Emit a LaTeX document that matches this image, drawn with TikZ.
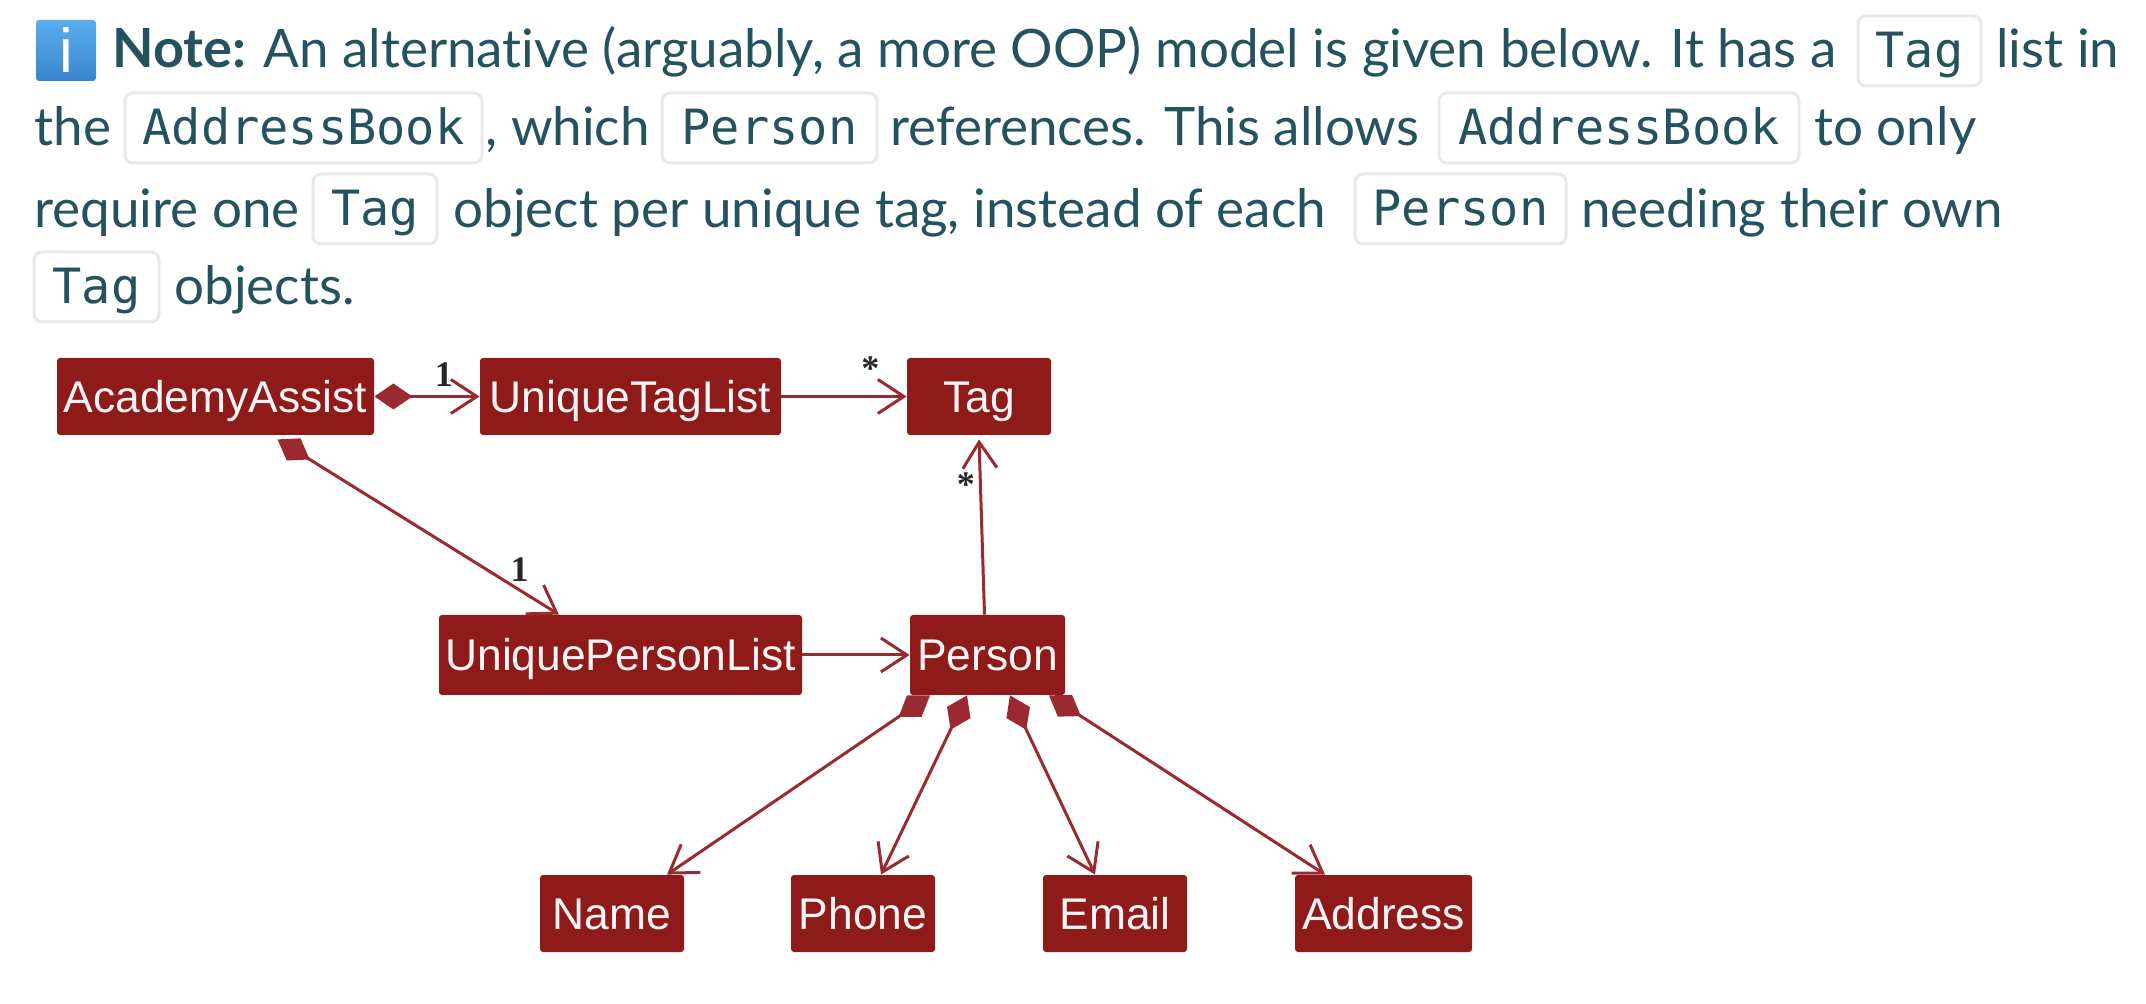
\documentclass[tikz,border=0pt]{standalone}
\usepackage{fontspec}
\setmainfont{Lato}[Ligatures=NoCommon]
\setmonofont{DejaVu Sans Mono}
\newfontfamily\umlfont{Liberation Sans}
\newfontfamily\multfont{Liberation Serif}
\usepackage{tikz}
\usetikzlibrary{calc,arrows.meta}
\definecolor{proseteal}{HTML}{25525F}
\definecolor{boxred}{HTML}{8F1A1A}
\definecolor{edgered}{HTML}{9A2A30}
\definecolor{icontop}{HTML}{57AEEE}
\definecolor{iconbot}{HTML}{3A85CB}
\tikzstyle{prose} = [anchor=base west, inner sep=0pt, text=proseteal, font=\fontsize{26.5}{30}\selectfont]
\tikzstyle{chip} = [draw=black!9, line width=1.5pt, fill=white, rounded corners=4pt, inner sep=0pt, minimum height=35pt, text=proseteal, text height=20pt, text depth=3pt, font=\ttfamily\fontsize{24.3}{30}\selectfont]
\tikzstyle{cls} = [fill=boxred, rounded corners=1.5pt, inner sep=0pt, minimum height=38.5pt, text height=16pt, text depth=0pt, text=white!95!boxred, font=\umlfont\fontsize{22.2}{26}\selectfont]
\tikzstyle{comp} = [draw=edgered, line width=1.5pt, {Diamond[length=19pt,width=13pt]}-{Straight Barb[length=13pt,width=17pt,line width=1.5pt]}]
\tikzstyle{assoc} = [draw=edgered, line width=1.5pt, -{Straight Barb[length=13pt,width=17pt,line width=1.5pt]}]
\tikzstyle{mult} = [inner sep=0pt, text=black!85, font=\multfont\bfseries\fontsize{18}{20}\selectfont]

\begin{document}
\begin{tikzpicture}[x=.5pt, y=-.5pt]
\useasboundingbox (0,0) rectangle (2146,1004);

% note icon
\node (icon) [top color=icontop, bottom color=iconbot, rounded corners=1.5pt, minimum width=30pt, minimum height=30.5pt, inner sep=0pt, text=white, font=\umlfont\fontsize{31}{31}\selectfont] at (66,50.5) {i};

% first line
\node (note) [prose, font=\bfseries\fontsize{27}{30}\selectfont] at (112,68) {Note:};
\node (line1) [prose] at (263,68) {An alternative (arguably, a more OOP) model is given below. It has a};
\node (chiptag) [chip, minimum width=61.5pt] at (1919.5,51) {Tag};
\node (line1b) [prose] at (1996,68) {list in};

% second line
\node (the) [prose] at (34,146) {the};
\node (chipab) [chip, minimum width=178.5pt] at (303.5,128) {AddressBook};
\node (which) [prose] at (485,146) {, which};
\node (chipprs) [chip, minimum width=107.5pt] at (769.5,128) {Person};
\node (refs) [prose] at (890,146) {references. This allows};
\node (chipabb) [chip, minimum width=180pt] at (1619,128) {AddressBook};
\node (only) [prose] at (1814,146) {to only};

% third line
\node (require) [prose] at (34,228) {require one};
\node (chiptagb) [chip, minimum width=62pt] at (375,209) {Tag};
\node (objper) [prose] at (453,228) {object per unique tag, instead of each};
\node (chipprsb) [chip, minimum width=105.5pt] at (1460.5,209) {Person};
\node (needing) [prose] at (1581,228) {needing their own};

% fourth line
\node (chiptagc) [chip, minimum width=62.5pt] at (96.5,287) {Tag};
\node (objects) [prose] at (174,305) {objects.};

% classes
\node (aa) [cls, minimum width=158.5pt] at (215.5,396.5) {AcademyAssist};
\node (utl) [cls, minimum width=150.5pt, right of=aa, node distance=207.5pt] {UniqueTagList};
\node (tag) [cls, minimum width=72pt, right of=utl, node distance=174.25pt] {Tag};
\node (upl) [cls, minimum width=181.5pt, minimum height=40pt] at (620.5,655) {UniquePersonList};
\node (prs) [cls, minimum width=77.5pt, minimum height=40pt, right of=upl, node distance=183.5pt] {Person};
\node (nme) [cls, minimum width=72pt] at (612,913.5) {Name};
\node (phn) [cls, minimum width=72pt, right of=nme, node distance=125.5pt] {Phone};
\node (eml) [cls, minimum width=72pt, right of=phn, node distance=126pt] {Email};
\node (adr) [cls, minimum width=88.5pt, right of=eml, node distance=134.25pt] {Address};

% edges
\path (aa.east) edge[comp]
  node (m1) [mult, pos=.66, above=4pt] {1} (utl.west);
\path (utl.east) edge[assoc]
  node (m2) [mult, pos=.71, above=7pt] {*} (tag.west);
\path ([xshift=31pt,yshift=-2pt]aa.south) edge[comp]
  node (m3) [mult, pos=.86, above=3.5pt] {1} ([xshift=-30.75pt]upl.north);
\path (upl.east) edge[assoc] (prs.west);
\path ([xshift=-1.5pt]prs.north) edge[assoc]
  node (m4) [mult, pos=.74, left=2pt] {*} ([yshift=-2pt]tag.south);
\path ([xshift=-28.75pt]prs.south) edge[comp] ([xshift=27.5pt]nme.north);
\path ([xshift=-10.25pt]prs.south) edge[comp] ([xshift=9pt]phn.north);
\path ([xshift=11.25pt]prs.south) edge[comp] ([xshift=-10pt]eml.north);
\path ([xshift=30.75pt]prs.south) edge[comp] ([xshift=-29.25pt]adr.north);

\end{tikzpicture}
\end{document}
